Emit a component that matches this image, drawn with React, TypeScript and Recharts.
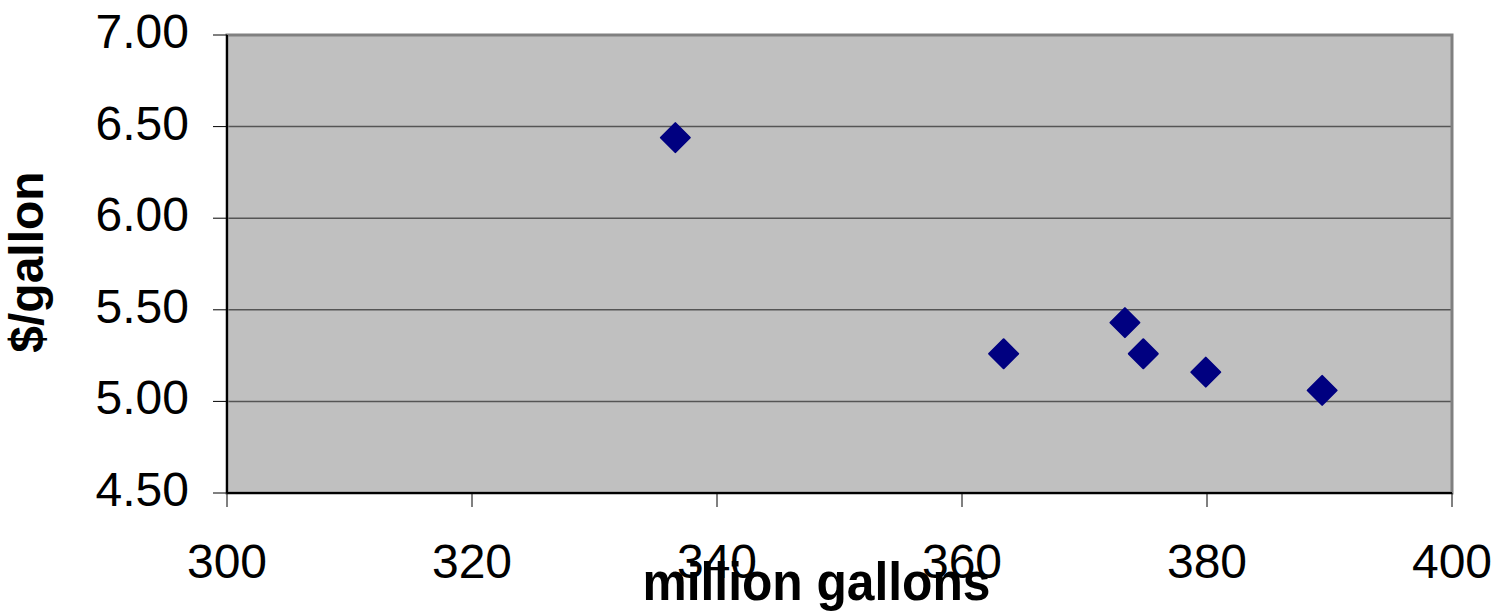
import React from 'react';
import { ScatterChart, Scatter, XAxis, YAxis, CartesianGrid, ReferenceArea } from 'recharts';

const volumes = [336.6, 363.4, 373.3, 374.8, 379.9, 389.4];
const prices = [6.44, 5.26, 5.43, 5.26, 5.16, 5.06];
const xTicks = [300, 320, 340, 360, 380, 400];
const yTicks = [4.5, 5.0, 5.5, 6.0, 6.5, 7.0];
const xTitle = 'million gallons';
const yTitle = '$/gallon';

const data = volumes.map((v, i) => ({ x: v, y: prices[i] }));

const FONT = 'Liberation Sans, Arial, sans-serif';

const Diamond = (props: any) => {
  const { cx, cy } = props;
  const r = 14.5;
  return (
    <polygon
      points={`${cx},${cy - r} ${cx + r},${cy} ${cx},${cy + r} ${cx - r},${cy}`}
      fill="#000080"
      stroke="#000080"
      strokeWidth={2}
      strokeLinejoin="round"
    />
  );
};

const XTick = (props: any) => {
  const { x, payload } = props;
  return (
    <text x={x} y={578} textAnchor="middle" fontSize={48} fontFamily={FONT} fill="#000">
      {payload.value}
    </text>
  );
};

const YTick = (props: any) => {
  const { x, y, payload } = props;
  return (
    <text x={x} y={y + 13} textAnchor="end" fontSize={48} fontFamily={FONT} fill="#000">
      {Number(payload.value).toFixed(2)}
    </text>
  );
};

const XTitle = (props: any) => {
  const { viewBox } = props;
  const cx = viewBox.x + viewBox.width / 2 - 23;
  return (
    <text
      x={cx}
      y={600}
      textAnchor="middle"
      fontSize={54}
      fontWeight="bold"
      fontFamily={FONT}
      fill="#000"
      textLength={348}
      lengthAdjust="spacingAndGlyphs"
    >
      {xTitle}
    </text>
  );
};

const YTitle = () => {
  return (
    <text
      x={43}
      y={262}
      transform="rotate(-90, 43, 262)"
      textAnchor="middle"
      fontSize={48}
      fontWeight="bold"
      fontFamily={FONT}
      fill="#000"
    >
      {yTitle}
    </text>
  );
};

export default function App() {
  return (
    <div style={{ position: 'absolute', left: 0, top: 0, background: '#fff' }}>
      <ScatterChart width={1498} height={614} margin={{ top: 35, right: 46, bottom: 61, left: 0 }}>
        <CartesianGrid fill="#C0C0C0" vertical={false} stroke="#555555" strokeWidth={1.5} />
        <ReferenceArea x1={300} x2={400} y1={4.5} y2={7} fill="none" stroke="#808080" strokeWidth={3} />
        <XAxis
          type="number"
          dataKey="x"
          domain={[300, 400]}
          ticks={xTicks}
          height={60}
          tickSize={14}
          axisLine={{ stroke: '#000', strokeWidth: 2 }}
          tickLine={{ stroke: '#000', strokeWidth: 1 }}
          tick={<XTick />}
          label={<XTitle />}
          allowDataOverflow
        />
        <YAxis
          type="number"
          dataKey="y"
          domain={[4.5, 7]}
          ticks={yTicks}
          width={227}
          tickSize={14}
          tickMargin={24}
          axisLine={{ stroke: '#000', strokeWidth: 2 }}
          tickLine={{ stroke: '#000', strokeWidth: 1 }}
          tick={<YTick />}
          label={<YTitle />}
          allowDataOverflow
        />
        <Scatter data={data} shape={<Diamond />} isAnimationActive={false} />
      </ScatterChart>
    </div>
  );
}
